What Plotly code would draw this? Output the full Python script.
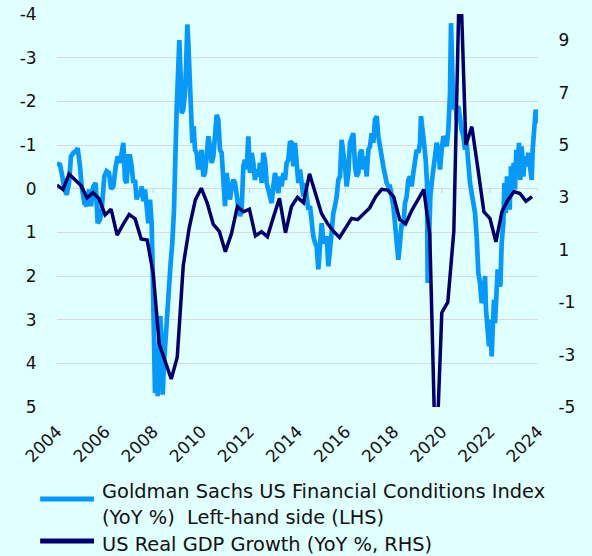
import plotly.graph_objects as go

# ---------------- data ----------------
# Goldman Sachs US FCI (YoY %), left axis (reversed), decimal-year dates
fci_dates = [
    2004.00, 2004.125, 2004.222, 2004.305, 2004.402, 2004.499, 2004.582, 2004.679, 2004.776, 2004.860,
    2004.957, 2005.026, 2005.137, 2005.234, 2005.331, 2005.414, 2005.511, 2005.608, 2005.691, 2005.788,
    2005.857, 2005.968, 2006.065, 2006.162, 2006.245, 2006.343, 2006.440, 2006.523, 2006.620, 2006.689,
    2006.758, 2006.828, 2006.897, 2006.966, 2007.036, 2007.105, 2007.174, 2007.243, 2007.313, 2007.382,
    2007.451, 2007.521, 2007.590, 2007.659, 2007.729, 2007.798, 2007.867, 2007.936, 2007.978, 2008.020,
    2008.075, 2008.131, 2008.186, 2008.241, 2008.297, 2008.352, 2008.394, 2008.449, 2008.519, 2008.588,
    2008.657, 2008.726, 2008.796, 2008.865,
    2008.975, 2009.045, 2009.086, 2009.142, 2009.183, 2009.253, 2009.322, 2009.363, 2009.419, 2009.460,
    2009.516, 2009.571, 2009.627, 2009.682, 2009.738, 2009.807, 2009.876, 2009.946, 2010.015, 2010.084,
    2010.153, 2010.223, 2010.292, 2010.361, 2010.431, 2010.500, 2010.569, 2010.639, 2010.708, 2010.777,
    2010.846, 2010.916, 2010.985, 2011.054, 2011.124, 2011.193, 2011.262, 2011.332, 2011.401, 2011.470,
    2011.539, 2011.609, 2011.678, 2011.747, 2011.817, 2011.886, 2011.955, 2012.025, 2012.094, 2012.163,
    2012.232, 2012.302, 2012.371, 2012.440, 2012.510, 2012.579, 2012.648, 2012.718, 2012.787, 2012.856,
    2012.925, 2012.995, 2013.064, 2013.133, 2013.203, 2013.272, 2013.341, 2013.411, 2013.480, 2013.549,
    2013.618, 2013.688, 2013.757, 2013.826,
    2013.896, 2013.965, 2014.035, 2014.104, 2014.173, 2014.243, 2014.312, 2014.381, 2014.450, 2014.520,
    2014.589, 2014.658, 2014.728, 2014.797, 2014.866, 2014.936, 2015.005, 2015.074, 2015.143, 2015.213,
    2015.282, 2015.351, 2015.421, 2015.490, 2015.559, 2015.629, 2015.698, 2015.767, 2015.836, 2015.906,
    2015.975, 2016.044, 2016.114, 2016.183, 2016.252, 2016.322, 2016.391, 2016.460, 2016.529, 2016.599,
    2016.668, 2016.737, 2016.807, 2016.876, 2016.945, 2017.015, 2017.084, 2017.153, 2017.222, 2017.292,
    2017.361, 2017.430, 2017.500, 2017.569, 2017.638, 2017.708, 2017.777, 2017.846, 2017.915, 2017.985,
    2018.054, 2018.123, 2018.193, 2018.262, 2018.331, 2018.401, 2018.470, 2018.539, 2018.608, 2018.678,
    2018.747, 2018.816,
    2018.886, 2018.955, 2019.025, 2019.094, 2019.135, 2019.191, 2019.260, 2019.330, 2019.385, 2019.413,
    2019.468, 2019.524, 2019.579, 2019.648, 2019.718, 2019.787, 2019.856, 2019.926, 2019.995, 2020.064,
    2020.133, 2020.203, 2020.272, 2020.341, 2020.383, 2020.438, 2020.480, 2020.549, 2020.619, 2020.688,
    2020.757, 2020.826, 2020.896, 2020.965, 2021.034, 2021.104, 2021.173, 2021.242, 2021.312, 2021.381,
    2021.450, 2021.519, 2021.589, 2021.658, 2021.727, 2021.797, 2021.838, 2021.894, 2021.963, 2022.018,
    2022.074, 2022.115, 2022.171, 2022.212, 2022.268, 2022.323, 2022.379, 2022.434, 2022.490, 2022.559,
    2022.601, 2022.656, 2022.711, 2022.767, 2022.822, 2022.878, 2022.933, 2022.989, 2023.044, 2023.099,
    2023.155, 2023.210, 2023.266, 2023.321, 2023.391, 2023.460, 2023.529, 2023.598, 2023.668, 2023.737,
    2023.779, 2023.834, 2023.903, 2023.959, 2024.014,
]
fci_values = [
    -0.58, -0.55, -0.28, 0.00, 0.14, -0.13, -0.74, -0.82, -0.85, -0.93,
    -0.51, -0.05, 0.33, 0.40, 0.02, 0.40, -0.05, -0.13, 0.79, 0.71,
    0.48, -0.28, -0.40, -0.36, 0.00, -0.05, -0.51, -0.74, -0.59, -0.89,
    -1.05, -0.20, -0.13, -0.74, -0.74, -0.51, -0.13, -0.20, 0.25, 0.06,
    0.18, -0.05, 0.29, 0.02, 0.48, 0.79, 0.25, 0.79, 1.85, 3.53,
    4.68, 3.92, 4.75, 3.53, 2.92, 3.53, 4.72, 4.00, 3.38, 2.62,
    2.31, 1.70, 1.24, 0.48,
    -1.81, -2.73, -3.40, -2.57, -1.73, -1.81, -2.19, -2.73, -3.76, -3.34,
    -2.57, -1.66, -1.05, -1.43, -0.89, -0.82, -0.44, -0.66, -0.89, -0.28,
    -0.36, -0.74, -1.20, -0.97, -0.59, -0.74, -1.35, -1.69, -1.58, -0.89,
    -0.82, -0.28, 0.40, -0.36, -0.05, 0.25, -0.05, -0.20, -0.13, 0.25,
    0.40, 0.63, 0.48, -0.51, -0.66, -0.44, -1.20, -0.36, -0.82, -0.59,
    -0.20, -0.44, -0.28, -0.59, -0.13, -0.82, -0.66, -0.13, 0.02, 0.18,
    0.33, -0.05, -0.36, -0.13, 0.10, -0.28, -0.05, -0.36, -0.20, -0.59,
    -0.66, -1.08, -1.05, -0.51,
    -1.05, -0.59, -0.13, -0.44, 0.02, 0.18, -0.13, 0.33, 0.48, 0.40,
    0.79, 1.09, 1.24, 1.32, 1.85, 1.24, 0.79, 1.17, 1.24, 1.09,
    1.78, 1.40, 0.79, 0.56, 0.40, 0.18, -0.20, -0.28, -1.12, -0.89,
    -0.51, -0.05, -0.36, -1.05, -1.20, -1.27, -0.51, -0.28, -0.36, -0.82,
    -0.89, -0.44, -0.74, -0.28, -0.89, -0.97, -1.27, -1.05, -1.58, -1.66,
    -1.20, -0.89, -0.74, -0.51, -0.28, -0.13, -0.05, -0.05, 0.18, 0.40,
    0.79, 1.17, 1.63, 1.24, 0.79, 0.86, 0.33, 0.18, -0.20, -0.28,
    -0.05, -0.36,
    -0.59, -0.89, -0.82, -1.05, -1.66, -1.27, -1.05, -0.66, -0.13, 2.16,
    0.63, 0.18, -0.13, -0.44, -0.66, -1.05, -0.89, -0.44, -0.89, -1.20,
    -1.12, -0.97, -1.35, -2.19, -3.79, -2.95, -1.81, -2.19, -1.58, -1.89,
    -1.58, -1.35, -1.20, -0.89, -1.05, -0.44, -0.13, 0.10, 0.33, 0.56,
    1.09, 1.93, 2.16, 2.62, 2.47, 2.00, 2.77, 3.08, 3.61, 3.00,
    3.84, 3.23, 2.54, 3.08, 2.00, 1.85, 2.16, 2.24, 1.24, 0.79,
    -0.13, 0.56, -0.28, 0.18, 0.48, -0.51, -0.13, -0.59, 0.02, -0.89,
    -0.51, -1.05, -0.20, -0.97, -0.28, -0.74, -0.51, -0.82, -0.44, -0.20,
    -0.89, -1.20, -1.81, -1.66, -1.50,
]

# US Real GDP growth (YoY %), quarterly, right axis
gdp_start_year = 2004
gdp_values = [
    3.47, 3.30, 3.89, 3.65, 3.45, 2.98, 3.18, 2.95, 2.33, 2.55,
    1.56, 1.97, 2.35, 2.18, 1.41, 1.37, 0.10, -2.60, -3.30, -3.93,
    -3.10, 0.40, 1.85, 2.90, 3.35, 2.77, 1.97, 1.70, 0.93, 1.60,
    2.65, 2.45, 2.55, 1.53, 1.69, 1.50, 2.25, 2.97, 1.65, 2.65,
    3.00, 2.80, 3.90, 3.10, 2.38, 2.00, 1.70, 1.47, 1.84, 2.20,
    2.15, 2.36, 2.60, 3.03, 3.31, 3.28, 3.02, 2.15, 2.00, 2.50,
    2.90, 3.30, 1.60, -7.50, -1.40, -1.00, 1.70, 12.20, 5.00, 5.70,
    4.10, 2.45, 2.20, 1.30, 2.45, 2.90, 3.22, 3.15, 2.85, 3.03,
]
gdp_dates = [gdp_start_year + i / 4 for i in range(len(gdp_values))]

x_ticks = list(range(2004, 2025, 2))
lhs_ticks = list(range(-4, 6))
rhs_ticks = list(range(-5, 10, 2))

fci_name = "Goldman Sachs US Financial Conditions Index"
fci_name2 = "(YoY %)  Left-hand side (LHS)"
gdp_name = "US Real GDP Growth (YoY %, RHS)"

# ---------------- style ----------------
BG = "#E0FFFF"
LIGHT = "#0899F7"
NAVY = "#000068"
GRID = "#D9D9D9"
FONT = "DejaVu Sans"
TXT = "#111111"

fig = go.Figure()
fig.add_trace(go.Scatter(x=fci_dates, y=fci_values, mode="lines", name=fci_name,
                         line=dict(color=LIGHT, width=4.7), yaxis="y"))
fig.add_trace(go.Scatter(x=gdp_dates, y=gdp_values, mode="lines", name=gdp_name,
                         line=dict(color=NAVY, width=3.5), yaxis="y2"))

shapes = []
# small category tick marks on the zero line
for t in x_ticks:
    shapes.append(dict(type="line", xref="x", yref="y", x0=t, x1=t, y0=0, y1=0.1,
                       line=dict(color="#C8C8C8", width=1), layer="below"))
# manual legend line samples
shapes.append(dict(type="line", xref="paper", yref="paper", x0=-0.035, x1=0.077,
                   y0=-0.234, y1=-0.234, line=dict(color=LIGHT, width=5)))
shapes.append(dict(type="line", xref="paper", yref="paper", x0=-0.035, x1=0.077,
                   y0=-0.341, y1=-0.341, line=dict(color=NAVY, width=5)))

annotations = []
for txt, yy in [(fci_name, -0.216), (fci_name2, -0.282), (gdp_name, -0.349)]:
    annotations.append(dict(text=txt, xref="paper", yref="paper", x=0.0894, y=yy,
                            xanchor="left", yanchor="middle", showarrow=False,
                            font=dict(family=FONT, size=19.4, color=TXT)))

fig.update_layout(
    width=592, height=556,
    margin=dict(l=57, r=54, t=14, b=149, autoexpand=False),
    paper_bgcolor=BG, plot_bgcolor=BG,
    showlegend=False,
    font=dict(family=FONT, size=16, color=TXT),
    shapes=shapes, annotations=annotations,
    xaxis=dict(range=[2004, 2024], tickvals=x_ticks, ticktext=[str(t) for t in x_ticks],
               tickangle=-45, showgrid=False, zeroline=False, showline=False,
               ticks="outside", ticklen=7, tickcolor="rgba(0,0,0,0)",
               tickfont=dict(size=17), automargin=False),
    yaxis=dict(range=[5, -4], tickvals=lhs_ticks, ticktext=[str(t) for t in lhs_ticks],
               showgrid=True, gridcolor=GRID,
               gridwidth=1, zeroline=False, showline=False,
               ticks="outside", ticklen=16, tickcolor="rgba(0,0,0,0)",
               tickfont=dict(size=17), automargin=False),
    yaxis2=dict(range=[-5, 10], tickvals=rhs_ticks, ticktext=[str(t) for t in rhs_ticks],
                overlaying="y", side="right",
                showgrid=False, zeroline=False, showline=False,
                ticks="outside", ticklen=16, tickcolor="rgba(0,0,0,0)",
                tickfont=dict(size=17), automargin=False),
)

fig.write_html(
    "out.html",
    config={"displayModeBar": False},
    post_script="document.body.style.margin='0';document.body.style.overflow='hidden';",
)
